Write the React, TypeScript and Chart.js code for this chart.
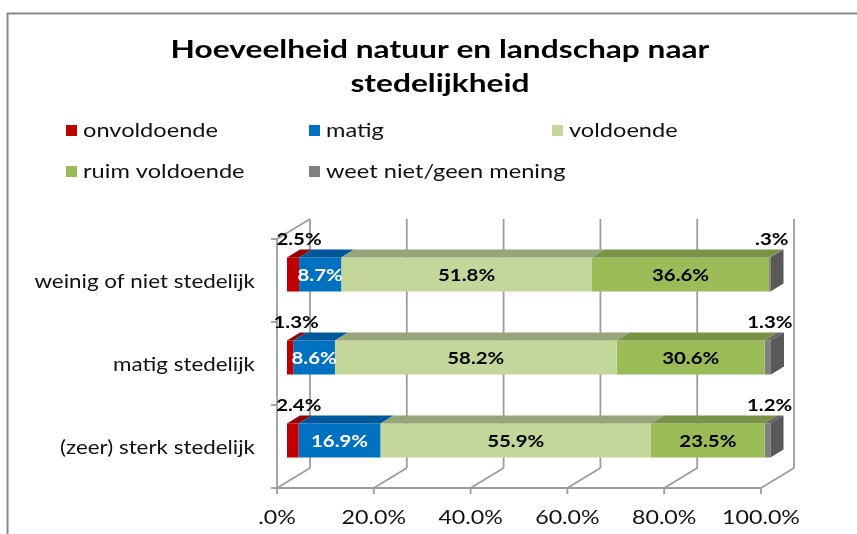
import React, { useEffect, useRef } from 'react';
import { Chart, registerables } from 'chart.js';

Chart.register(...registerables);

const categories = ['weinig of niet stedelijk', 'matig stedelijk', '(zeer) sterk stedelijk'];
const seriesNames = ['onvoldoende', 'matig', 'voldoende', 'ruim voldoende', 'weet niet/geen mening'];
const onvoldoende = [2.5, 1.3, 2.4];
const matig = [8.7, 8.6, 16.9];
const voldoende = [51.8, 58.2, 55.9];
const ruimVoldoende = [36.6, 30.6, 23.5];
const weetNiet = [0.3, 1.3, 1.2];
const xTicks = [0, 20, 40, 60, 80, 100];
const titleLines = ['Hoeveelheid natuur en landschap naar', 'stedelijkheid'];

const colors = ['#C00000', '#0070C0', '#C4D79B', '#9BBB59', '#808080'];
const topColors = ['#960000', '#00579A', '#97A57A', '#789246', '#666666'];
const sideColor = '#595959';
const labelColors = ['#000000', '#ffffff', '#000000', '#000000', '#000000'];

const FRONT = { dx: -10, dy: 6 };
const BACK = { dx: 23, dy: -14 };
const BAR_D = { dx: 13, dy: -8 };
const GRID = '#9c9c9c';
const FONT = 'Lato';
const TEXT = '#111111';

const fmt = (v: number) => {
  const s = v.toFixed(1);
  return (s.startsWith('0') ? s.slice(1) : s) + '%';
};

function drawText(
  ctx: CanvasRenderingContext2D,
  str: string,
  x: number,
  y: number,
  font: string,
  color: string,
  align: 'left' | 'center' | 'right',
  sx: number
) {
  ctx.save();
  ctx.font = font;
  ctx.fillStyle = color;
  ctx.textBaseline = 'middle';
  ctx.textAlign = 'left';
  const w = ctx.measureText(str).width * sx;
  const left = align === 'left' ? x : align === 'center' ? x - w / 2 : x - w;
  ctx.translate(left, y);
  ctx.scale(sx, 1);
  ctx.fillText(str, 0, 0);
  ctx.restore();
}

function line(ctx: CanvasRenderingContext2D, x1: number, y1: number, x2: number, y2: number) {
  ctx.beginPath();
  ctx.moveTo(x1, y1);
  ctx.lineTo(x2, y2);
  ctx.stroke();
}

const excel3d = {
  id: 'excel3d',
  beforeDraw(chart: any) {
    const ctx: CanvasRenderingContext2D = chart.ctx;
    ctx.save();
    ctx.fillStyle = '#ffffff';
    ctx.fillRect(0, 0, chart.width, chart.height);
    ctx.strokeStyle = '#898989';
    ctx.lineWidth = 2;
    line(ctx, 7, 13.5, chart.width, 13.5);
    line(ctx, 7.5, 13, 7.5, chart.height);
    ctx.restore();
  },
  beforeDatasetsDraw(chart: any) {
    const ctx: CanvasRenderingContext2D = chart.ctx;
    const xs = chart.scales.x;
    const ys = chart.scales.y;
    const { top, bottom } = chart.chartArea;
    ctx.save();
    ctx.strokeStyle = GRID;
    ctx.lineWidth = 1.8;
    const fTop = top + FRONT.dy;
    const fBot = bottom + FRONT.dy;
    const bTop = top + BACK.dy;
    const bBot = bottom + BACK.dy;
    xTicks.forEach((v) => {
      const px = xs.getPixelForValue(v);
      const fx = px + FRONT.dx;
      const bx = px + BACK.dx;
      line(ctx, bx, bTop, bx, bBot);
      line(ctx, fx, fBot, bx, bBot);
      line(ctx, fx, fBot, fx, fBot + 6);
    });
    const f0 = xs.getPixelForValue(0) + FRONT.dx;
    const f100 = xs.getPixelForValue(100) + FRONT.dx;
    const b0 = xs.getPixelForValue(0) + BACK.dx;
    line(ctx, f0, fBot, f100, fBot);
    line(ctx, f0, fTop, f0, fBot);
    line(ctx, f0, fTop, b0, bTop);
    const n = categories.length;
    for (let i = 0; i <= n; i++) {
      const y = fTop + ((fBot - fTop) * i) / n;
      line(ctx, f0 - 6, y, f0, y);
    }
    ctx.restore();
    xTicks.forEach((v) => {
      const fx = xs.getPixelForValue(v) + FRONT.dx;
      drawText(ctx, fmt(v), fx, fBot + 30, `20px ${FONT}`, TEXT, 'center', 1.16);
    });
    categories.forEach((c, i) => {
      const y = ys.getPixelForValue(i) + FRONT.dy + 1;
      drawText(ctx, c, f0 - 22, y, `20px ${FONT}`, TEXT, 'right', 1.12);
    });
  },
  afterDatasetsDraw(chart: any) {
    const ctx: CanvasRenderingContext2D = chart.ctx;
    const nds = chart.data.datasets.length;
    ctx.save();
    for (let d = 0; d < nds; d++) {
      const meta = chart.getDatasetMeta(d);
      meta.data.forEach((el: any) => {
        const l = Math.min(el.x, el.base);
        const r = Math.max(el.x, el.base);
        const t = el.y - el.height / 2;
        const b = el.y + el.height / 2;
        ctx.fillStyle = topColors[d];
        ctx.beginPath();
        ctx.moveTo(l, t);
        ctx.lineTo(r, t);
        ctx.lineTo(r + BAR_D.dx, t + BAR_D.dy);
        ctx.lineTo(l + BAR_D.dx, t + BAR_D.dy);
        ctx.closePath();
        ctx.fill();
        if (d === nds - 1) {
          ctx.fillStyle = sideColor;
          ctx.beginPath();
          ctx.moveTo(r, t);
          ctx.lineTo(r + BAR_D.dx, t + BAR_D.dy);
          ctx.lineTo(r + BAR_D.dx, b + BAR_D.dy);
          ctx.lineTo(r, b);
          ctx.closePath();
          ctx.fill();
        }
      });
    }
    ctx.restore();
    for (let d = 0; d < nds; d++) {
      const meta = chart.getDatasetMeta(d);
      const vals = chart.data.datasets[d].data as number[];
      meta.data.forEach((el: any, i: number) => {
        const v = vals[i];
        const cx = (el.x + el.base) / 2;
        const t = el.y - el.height / 2;
        if (v < 5) {
          const shift = d === 0 ? 6 : 2;
          drawText(ctx, fmt(v), cx + shift, t - 18, `bold 17px ${FONT}`, '#000000', 'center', 1.2);
        } else {
          drawText(ctx, fmt(v), cx, el.y + 1, `bold 17px ${FONT}`, labelColors[d], 'center', 1.2);
        }
      });
    }
  },
  afterDraw(chart: any) {
    const ctx: CanvasRenderingContext2D = chart.ctx;
    titleLines.forEach((t, i) => {
      drawText(ctx, t, 440, 50 + i * 34, `bold 24px ${FONT}`, '#000000', 'center', 1.32);
    });
    const colX = [66, 309, 552];
    const rowY = [131, 172];
    chart.data.datasets.forEach((ds: any, i: number) => {
      const x = colX[i % 3];
      const y = rowY[Math.floor(i / 3)];
      ctx.fillStyle = ds.backgroundColor;
      ctx.fillRect(x, y - 6, 11, 11);
      drawText(ctx, ds.label, x + 17, y, `20px ${FONT}`, TEXT, 'left', 1.18);
    });
  },
};

export default function App() {
  const ref = useRef<HTMLCanvasElement | null>(null);
  useEffect(() => {
    if (!ref.current) return;
    const series = [onvoldoende, matig, voldoende, ruimVoldoende, weetNiet];
    const chart = new Chart(ref.current, {
      type: 'bar',
      data: {
        labels: categories,
        datasets: series.map((s, i) => ({
          label: seriesNames[i],
          data: s,
          backgroundColor: colors[i],
          borderWidth: 0,
          barPercentage: 0.41,
          categoryPercentage: 1,
        })),
      },
      options: {
        indexAxis: 'y',
        responsive: false,
        animation: false,
        devicePixelRatio: 1,
        layout: { padding: { left: 287, right: 86, top: 233, bottom: 52 } },
        plugins: { legend: { display: false }, title: { display: false }, tooltip: { enabled: false } },
        scales: {
          x: { type: 'linear', min: 0, max: 100, stacked: true, display: false },
          y: { type: 'category', stacked: true, display: false },
        },
      },
      plugins: [excel3d],
    });
    return () => chart.destroy();
  }, []);
  return (
    <div style={{ position: 'fixed', left: 0, top: 0, width: 857, height: 534, background: '#fff' }}>
      <canvas ref={ref} width={857} height={534} />
    </div>
  );
}
